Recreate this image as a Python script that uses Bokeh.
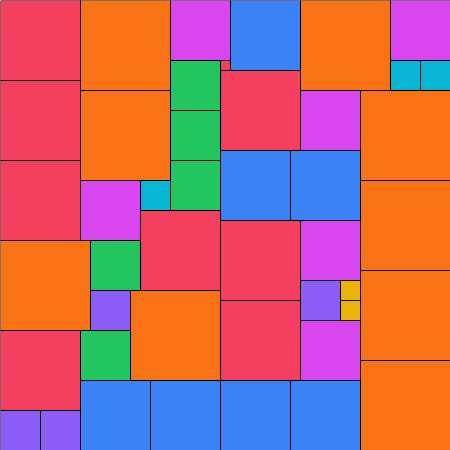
from bokeh.plotting import figure
from bokeh.models import ColumnDataSource, Range1d
from bokeh.embed import file_html
from bokeh.resources import INLINE

# Square packing: left, top, side, colour (units = pixels of a 450x450 board, y downward)
left = [0, 0, 0, 0, 220, 140, 220, 220, 220,
        80, 80, 0, 130, 300, 360, 360, 360, 360,
        170, 80, 390, 300, 300, 300,
        230, 80, 150, 220, 290, 220, 290,
        170, 170, 170, 90, 80,
        140, 390, 420,
        0, 40, 90, 300,
        340, 340]
top = [0, 80, 160, 330, 70, 210, 220, 300, 60,
       0, 90, 240, 290, 0, 90, 180, 270, 360,
       0, 180, 0, 90, 220, 320,
       0, 380, 380, 380, 380, 150, 150,
       60, 110, 160, 240, 330,
       180, 60, 60,
       410, 410, 290, 280,
       280, 300]
side = [80, 80, 80, 80, 80, 80, 80, 80, 10,
        90, 90, 90, 90, 90, 90, 90, 90, 90,
        60, 60, 60, 60, 60, 60,
        70, 70, 70, 70, 70, 70, 70,
        50, 50, 50, 50, 50,
        30, 30, 30,
        40, 40, 40, 40,
        20, 20]
colour = (["#f43f5e"] * 9 + ["#f97316"] * 9 + ["#d946ef"] * 6 + ["#3b82f6"] * 7
          + ["#22c55e"] * 5 + ["#06b6d4"] * 3 + ["#8b5cf6"] * 4 + ["#eab308"] * 2)

src = ColumnDataSource(dict(
    l=left,
    r=[a + s for a, s in zip(left, side)],
    t=top,
    b=[a + s for a, s in zip(top, side)],
    c=colour,
))

p = figure(width=450, height=450, output_backend="svg", toolbar_location=None,
           x_range=Range1d(0, 450), y_range=Range1d(450, 0),
           min_border=0, min_border_left=0, min_border_right=0,
           min_border_top=0, min_border_bottom=0)
p.axis.visible = False
p.grid.visible = False
p.outline_line_color = None
p.background_fill_color = "white"
p.border_fill_color = "white"

p.quad(left="l", right="r", top="t", bottom="b", source=src,
       fill_color="c", line_color="black", line_width=1)

html = file_html(p, INLINE)
html = html.replace("<head>", "<head><style>html,body{margin:0;padding:0;overflow:hidden}</style>", 1)
open("out.html", "w").write(html)
